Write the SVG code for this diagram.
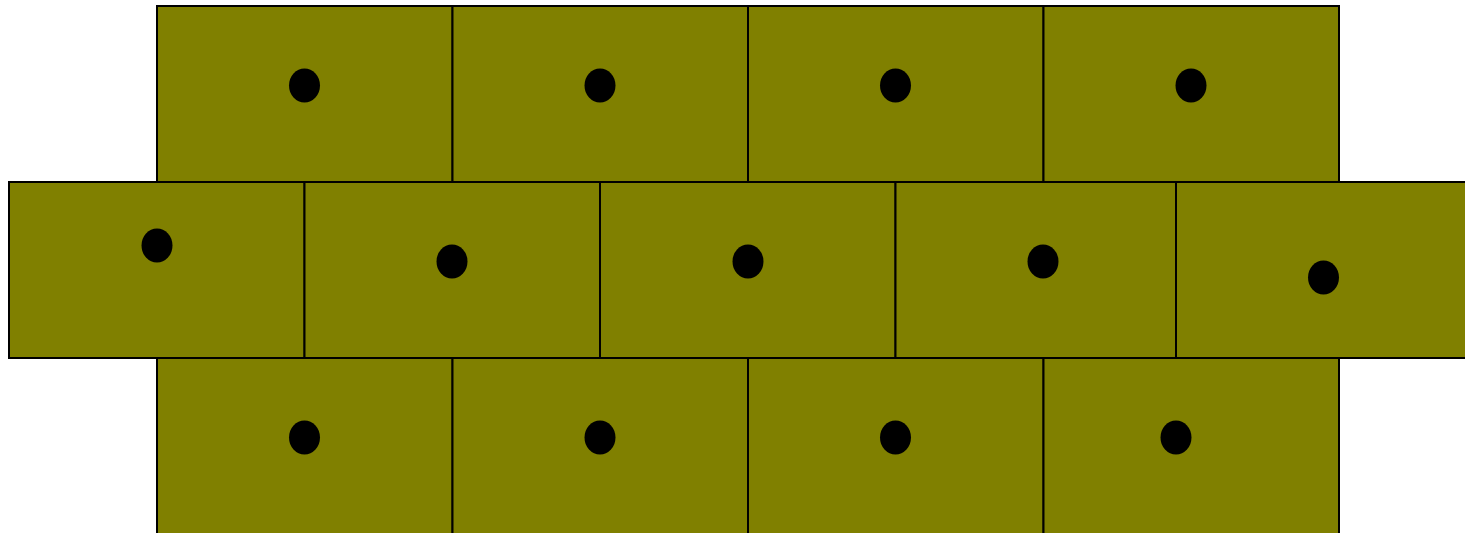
<svg xmlns="http://www.w3.org/2000/svg" width="1465" height="533" viewBox="0 0 1465 533">
<style>
.c{fill:#808000;stroke:#000;stroke-width:2}
.d{fill:#000}
</style>
<rect width="1465" height="533" fill="#fff"/>
<g id="row-top">
<g id="t1"><rect class="c" x="157" y="6" width="295.5" height="176"/><ellipse class="d" cx="304.5" cy="85.5" rx="15.5" ry="17"/></g>
<g id="t2"><rect class="c" x="452.5" y="6" width="295.5" height="176"/><ellipse class="d" cx="600" cy="85.5" rx="15.5" ry="17"/></g>
<g id="t3"><rect class="c" x="748" y="6" width="295.5" height="176"/><ellipse class="d" cx="895.5" cy="85.5" rx="15.5" ry="17"/></g>
<g id="t4"><rect class="c" x="1043.5" y="6" width="295.5" height="176"/><ellipse class="d" cx="1191" cy="85.5" rx="15.5" ry="17"/></g>
</g>
<g id="row-bottom">
<g id="b1"><rect class="c" x="157" y="358" width="295.5" height="180"/><ellipse class="d" cx="304.5" cy="437.5" rx="15.5" ry="17"/></g>
<g id="b2"><rect class="c" x="452.5" y="358" width="295.5" height="180"/><ellipse class="d" cx="600" cy="437.5" rx="15.5" ry="17"/></g>
<g id="b3"><rect class="c" x="748" y="358" width="295.5" height="180"/><ellipse class="d" cx="895.5" cy="437.5" rx="15.5" ry="17"/></g>
<g id="b4"><rect class="c" x="1043.5" y="358" width="295.5" height="180"/><ellipse class="d" cx="1176" cy="437.5" rx="15.5" ry="17"/></g>
</g>
<g id="row-middle">
<g id="m1"><rect class="c" x="9" y="182" width="295.5" height="176"/><ellipse class="d" cx="157" cy="245.5" rx="15.5" ry="17"/></g>
<g id="m2"><rect class="c" x="304.5" y="182" width="295.5" height="176"/><ellipse class="d" cx="452" cy="261.5" rx="15.5" ry="17"/></g>
<g id="m3"><rect class="c" x="600" y="182" width="295.5" height="176"/><ellipse class="d" cx="748" cy="261.5" rx="15.5" ry="17"/></g>
<g id="m4"><rect class="c" x="895.5" y="182" width="280.5" height="176"/><ellipse class="d" cx="1043" cy="261.5" rx="15.5" ry="17"/></g>
<g id="m5"><rect class="c" x="1176" y="182" width="295.5" height="176"/><ellipse class="d" cx="1323.5" cy="277.5" rx="15.5" ry="17"/></g>
</g>
<g id="connectors"/>
</svg>
